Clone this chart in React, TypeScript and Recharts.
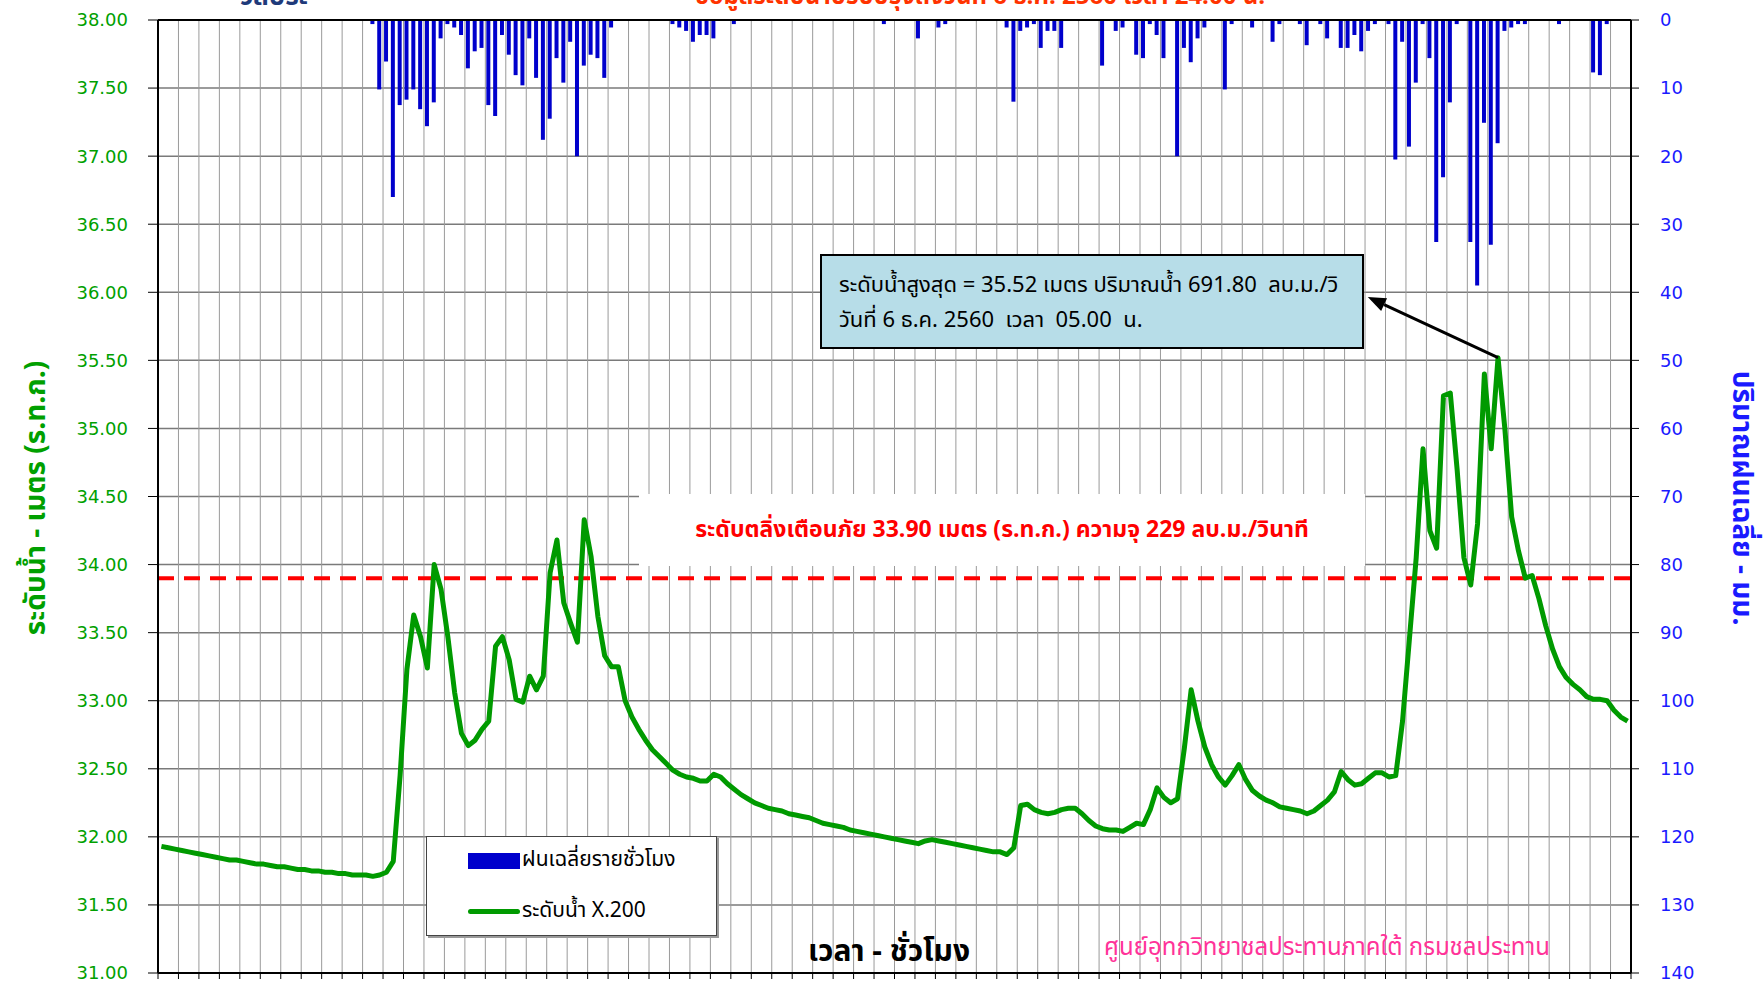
import React from 'react';
import { ComposedChart, Bar, Line, XAxis, YAxis, CartesianGrid, ReferenceLine, Legend } from 'recharts';

// hourly rainfall (mm), 28 Nov 01:00 .. 6 Dec 24:00, one row per day
const RAIN_DAY1 = [0,0,0,0,0,0,0,0,0,0,0,0,0,0,0,0,0,0,0,0,0,0,0,0];
const RAIN_DAY2 = [0,0,0,0,0,0,0,0.6,10.2,6.1,26,12.5,11.7,10.2,13.1,15.6,12.1,2.7,0.6,1.1,2.2,7.1,4.6,4.1];
const RAIN_DAY3 = [12.5,14.1,2.2,5.1,8.1,9.6,2.7,8.5,17.6,14.5,5.6,9.2,3.2,20,6.7,5.1,5.6,8.5,1.1,0,0,0,0,0];
const RAIN_DAY4 = [0,0,0,0.6,1.1,1.6,3.2,2.2,2.2,2.7,0,0,0.6,0,0,0,0,0,0,0,0,0,0,0];
const RAIN_DAY5 = [0,0,0,0,0,0,0,0,0,0,0.6,0,0,0,0,2.7,0,0,1.1,0.6,0,0,0,0];
const RAIN_DAY6 = [0,0,0,0,1.1,12,1.6,1.1,0.6,4.1,1.6,1.6,4.1,0,0,0,0,0,6.7,0,1.6,1.1,0,5.1];
const RAIN_DAY7 = [5.6,0.6,2.2,5.6,0,20,4.1,6.2,2.7,1.1,0,0,10.2,0.6,0,0,1.1,0,0,3.2,0.6,0,0,0.6];
const RAIN_DAY8 = [3.7,0,0.6,2.7,0,4.1,4.1,2.2,4.6,1.6,0.6,0,0.6,20.5,3.2,18.6,9.2,0.6,5.6,32.6,23.1,12.1,0.6,0];
const RAIN_DAY9 = [32.6,39,15.1,33,18.1,1.6,1.1,0.6,0.6,0,0,0,0,0.6,0,0,0,0,7.7,8.1,0.6,0,0,0];

// hourly water level X.200 (m MSL)
const LEVEL_DAY1 = [31.93,31.92,31.91,31.90,31.89,31.88,31.87,31.86,31.85,31.84,31.83,31.83,31.82,31.81,31.80,31.80,31.79,31.78,31.78,31.77,31.76,31.76,31.75,31.75];
const LEVEL_DAY2 = [31.74,31.74,31.73,31.73,31.72,31.72,31.72,31.71,31.72,31.74,31.82,32.45,33.23,33.63,33.47,33.24,34.00,33.82,33.47,33.06,32.76,32.67,32.71,32.79];
const LEVEL_DAY3 = [32.85,33.40,33.47,33.30,33.01,32.99,33.18,33.08,33.18,33.94,34.18,33.72,33.57,33.43,34.33,34.06,33.62,33.33,33.25,33.25,33.00,32.88,32.79,32.71];
const LEVEL_DAY4 = [32.64,32.59,32.54,32.49,32.46,32.44,32.43,32.41,32.41,32.46,32.44,32.39,32.35,32.31,32.28,32.25,32.23,32.21,32.20,32.19,32.17,32.16,32.15,32.14];
const LEVEL_DAY5 = [32.12,32.10,32.09,32.08,32.07,32.05,32.04,32.03,32.02,32.01,32.00,31.99,31.98,31.97,31.96,31.95,31.97,31.98,31.97,31.96,31.95,31.94,31.93,31.92];
const LEVEL_DAY6 = [31.91,31.90,31.89,31.89,31.87,31.92,32.23,32.24,32.20,32.18,32.17,32.18,32.20,32.21,32.21,32.17,32.12,32.08,32.06,32.05,32.05,32.04,32.07,32.10];
const LEVEL_DAY7 = [32.09,32.20,32.36,32.29,32.25,32.28,32.65,33.08,32.85,32.66,32.53,32.44,32.38,32.45,32.53,32.42,32.34,32.30,32.27,32.25,32.22,32.21,32.20,32.19];
const LEVEL_DAY8 = [32.17,32.19,32.23,32.27,32.33,32.48,32.42,32.38,32.39,32.43,32.47,32.47,32.44,32.45,32.85,33.45,34.05,34.85,34.25,34.12,35.24,35.26,34.70,34.05];
const LEVEL_DAY9 = [33.85,34.30,35.40,34.85,35.52,35.00,34.35,34.10,33.90,33.92,33.75,33.55,33.38,33.25,33.17,33.12,33.08,33.03,33.01,33.01,33.00,32.93,32.88,32.85];

const RAIN = [...RAIN_DAY1, ...RAIN_DAY2, ...RAIN_DAY3, ...RAIN_DAY4, ...RAIN_DAY5, ...RAIN_DAY6, ...RAIN_DAY7, ...RAIN_DAY8, ...RAIN_DAY9];
const LEVEL = [...LEVEL_DAY1, ...LEVEL_DAY2, ...LEVEL_DAY3, ...LEVEL_DAY4, ...LEVEL_DAY5, ...LEVEL_DAY6, ...LEVEL_DAY7, ...LEVEL_DAY8, ...LEVEL_DAY9];

const LEFT_TICKS = [31, 31.5, 32, 32.5, 33, 33.5, 34, 34.5, 35, 35.5, 36, 36.5, 37, 37.5, 38];
const LEFT_MINOR_TICKS = [31.2, 31.4, 31.6, 31.8, 32.2, 32.4, 32.6, 32.8, 33.2, 33.4, 33.6, 33.8, 34.2, 34.4, 34.6, 34.8, 35.2, 35.4, 35.6, 35.8, 36.2, 36.4, 36.6, 36.8, 37.2, 37.4, 37.6, 37.8];
const RIGHT_TICKS = [0, 10, 20, 30, 40, 50, 60, 70, 80, 90, 100, 110, 120, 130, 140];
const X_TICKS = Array.from({ length: 73 }, (_, k) => 0.5 + 3 * k);

const WARNING_LEVEL = 33.9;
const PEAK_HOUR = 197;
const PEAK_LEVEL = 35.52;

const TITLE = 'ข้อมูลระดับน้ำปรับปรุงถึงวันที่ 6 ธ.ค. 2560 เวลา 24.00 น.';
const TITLE_LEFT = 'วัลประ';
const Y_LEFT_TITLE = 'ระดับน้ำ - เมตร (ร.ท.ก.)';
const Y_RIGHT_TITLE = 'ปริมาณฝนเฉลี่ย - มม.';
const X_TITLE = 'เวลา - ชั่วโมง';
const CREDIT = 'ศูนย์อุทกวิทยาชลประทานภาคใต้ กรมชลประทาน';
const WARNING_TEXT = 'ระดับตลิ่งเตือนภัย 33.90 เมตร (ร.ท.ก.) ความจุ 229 ลบ.ม./วินาที';
const NOTE_LINE1 = 'ระดับน้ำสูงสุด = 35.52 เมตร ปริมาณน้ำ 691.80  ลบ.ม./วิ';
const NOTE_LINE2 = 'วันที่ 6 ธ.ค. 2560  เวลา  05.00  น.';
const LEGEND_RAIN = 'ฝนเฉลี่ยรายชั่วโมง';
const LEGEND_LEVEL = 'ระดับน้ำ X.200';

const data = RAIN.map((r, i) => ({ hour: i + 1, rain: r, level: LEVEL[i] }));

const THAI = "'Noto Sans Thai', 'Tahoma', 'Loma', 'Garuda', 'DejaVu Sans', sans-serif";
const NUM = "'DejaVu Sans', sans-serif";

const ArrowShape = (p: any) => {
  const { x1, y1, x2, y2 } = p;
  if ([x1, y1, x2, y2].some((v) => typeof v !== 'number' || isNaN(v))) return <g />;
  const ang = Math.atan2(y2 - y1, x2 - x1);
  const L = 18, W = 7;
  const bx = x2 - L * Math.cos(ang);
  const by = y2 - L * Math.sin(ang);
  const pts = `${x2},${y2} ${bx + W * Math.sin(ang)},${by - W * Math.cos(ang)} ${bx - W * Math.sin(ang)},${by + W * Math.cos(ang)}`;
  return (
    <g>
      <line x1={x1} y1={y1} x2={bx} y2={by} stroke="#000" strokeWidth={3} />
      <polygon points={pts} fill="#000" />
    </g>
  );
};

const LegendBox = () => (
  <div style={{ width: 289, height: 98, background: '#fff', border: '1px solid #444', boxShadow: '2px 2px 0 #999', position: 'relative', fontFamily: THAI, fontSize: 21, color: '#000' }}>
    <div style={{ position: 'absolute', left: 41, top: 16, width: 52, height: 16, background: '#0000cc' }} />
    <div style={{ position: 'absolute', left: 95, top: 9, lineHeight: '28px', whiteSpace: 'nowrap' }}>{LEGEND_RAIN}</div>
    <div style={{ position: 'absolute', left: 41, top: 72, width: 52, height: 5, background: '#009a00', borderRadius: 3 }} />
    <div style={{ position: 'absolute', left: 95, top: 60, lineHeight: '28px', whiteSpace: 'nowrap' }}>{LEGEND_LEVEL}</div>
  </div>
);

const Text = ({ x, y, rotate = 0, style, children }: any) => (
  <div style={{ position: 'absolute', left: x, top: y, transform: `translate(-50%, -50%) rotate(${rotate}deg)`, whiteSpace: 'nowrap', ...style }}>{children}</div>
);

export default function App() {
  return (
    <div style={{ position: 'absolute', left: 0, top: 0, width: 1764, height: 982, background: '#fff', overflow: 'hidden' }}>
      <ComposedChart width={1764} height={982} data={data} margin={{ top: 20, right: 0, bottom: 0, left: 0 }}>
        <CartesianGrid yAxisId="left" vertical={false} stroke="#7a7a7a" strokeWidth={1.5} />
        <CartesianGrid yAxisId="left" horizontal={false} stroke="#9a9a9a" strokeWidth={1} />
        <XAxis type="number" dataKey="hour" domain={[0.5, 216.5]} ticks={X_TICKS} interval={0} allowDataOverflow
          tickFormatter={() => ''} tickSize={6} height={9} axisLine={{ stroke: '#000', strokeWidth: 2 }} tickLine={{ stroke: '#000' }} />
        <YAxis yAxisId="left" domain={[31, 38]} ticks={LEFT_TICKS} interval={0} allowDataOverflow width={158}
          tickSize={10} tickMargin={20} tickFormatter={(v: number) => v.toFixed(2)}
          tick={{ fill: '#00a000', fontSize: 18, fontFamily: NUM }}
          axisLine={{ stroke: '#000', strokeWidth: 2 }} tickLine={{ stroke: '#000' }} />
        <YAxis yAxisId="minor" domain={[31, 38]} ticks={LEFT_MINOR_TICKS} interval={0} mirror width={10}
          tick={false} tickSize={8} axisLine={false} tickLine={{ stroke: '#000' }} />
        <YAxis yAxisId="right" orientation="right" domain={[0, 140]} reversed ticks={RIGHT_TICKS} interval={0} width={133}
          tickSize={8} tickMargin={21}
          tick={{ fill: '#1a1aff', fontSize: 18, fontFamily: NUM, textAnchor: 'start' }}
          axisLine={{ stroke: '#000', strokeWidth: 2 }} tickLine={{ stroke: '#000' }} />
        <Bar yAxisId="right" dataKey="rain" fill="#0000cc" barSize={4} isAnimationActive={false} />
        <ReferenceLine yAxisId="left" y={WARNING_LEVEL} stroke="#ff0000" strokeWidth={4} strokeDasharray="16 10" />
        <Line yAxisId="left" dataKey="level" stroke="#009a00" strokeWidth={5} dot={false} type="linear" isAnimationActive={false} strokeLinejoin="round" />
        <ReferenceLine yAxisId="left" y={38} stroke="#000" strokeWidth={2} />
        <ReferenceLine yAxisId="left" segment={[{ x: PEAK_HOUR, y: PEAK_LEVEL }, { x: 177.9, y: 35.965 }]} shape={ArrowShape} />
        <Legend layout="vertical" align="center" verticalAlign="middle" content={<LegendBox />}
          wrapperStyle={{ position: 'absolute', left: 426, top: 836, width: 291, height: 100 }} />
      </ComposedChart>

      {/* warning band */}
      <div style={{ position: 'absolute', left: 639, top: 494, width: 726, height: 72, background: '#fff', display: 'flex', alignItems: 'center', justifyContent: 'center', fontFamily: THAI, fontWeight: 'bold', fontSize: 23, color: '#ff0000', whiteSpace: 'nowrap' }}>
        {WARNING_TEXT}
      </div>

      {/* peak note */}
      <div style={{ position: 'absolute', left: 820, top: 254, width: 540, height: 91, background: '#b7dde8', border: '2px solid #000', fontFamily: THAI, fontSize: 22, color: '#000', whiteSpace: 'pre' }}>
        <div style={{ position: 'absolute', left: 17, top: 15, lineHeight: '30px' }}>{NOTE_LINE1}</div>
        <div style={{ position: 'absolute', left: 17, top: 50, lineHeight: '30px' }}>{NOTE_LINE2}</div>
      </div>

      <Text x={980} y={-3} style={{ fontFamily: THAI, fontWeight: 'bold', fontSize: 24, color: '#ff3300' }}>{TITLE}</Text>
      <Text x={274} y={-3} style={{ fontFamily: THAI, fontWeight: 'bold', fontSize: 26, color: '#1f3a7a' }}>{TITLE_LEFT}</Text>
      <Text x={36} y={498} rotate={-90} style={{ fontFamily: THAI, fontWeight: 'bold', fontSize: 28, color: '#00a000' }}>{Y_LEFT_TITLE}</Text>
      <Text x={1741} y={498} rotate={90} style={{ fontFamily: THAI, fontWeight: 'bold', fontSize: 28, color: '#1a1aff' }}>{Y_RIGHT_TITLE}</Text>
      <Text x={889} y={952} style={{ fontFamily: THAI, fontWeight: 'bold', fontSize: 30, color: '#000' }}>{X_TITLE}</Text>
      <Text x={1327} y={948} style={{ fontFamily: THAI, fontSize: 24, color: '#ff3399' }}>{CREDIT}</Text>
    </div>
  );
}
